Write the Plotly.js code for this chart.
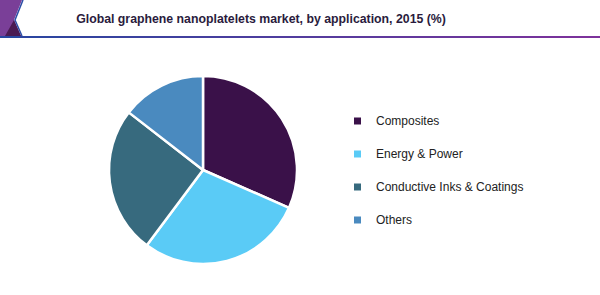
<!DOCTYPE html>
<html>
<head>
<meta charset="utf-8">
<script src="https://cdn.plot.ly/plotly-3.0.1.min.js"></script>
<style>html,body{margin:0;padding:0;background:#fff;}#chart{width:600px;height:295px;}</style>
</head>
<body>
<div id="chart"></div>
<script>
var labels = ["Composites", "Energy & Power", "Conductive Inks & Coatings", "Others"];
var values = [31.6, 28.6, 25.3, 14.5];
var colors = ["#3a1149", "#5acbf6", "#376a7e", "#4a8abf"];
var titleText = "Global graphene nanoplatelets market, by application, 2015 (%)";

var W = 600, H = 295;
function px(x){ return x / W; }
function py(y){ return 1 - y / H; }

var shapes = [];
var annotations = [];

// header line gradient (blue -> purple)
var nseg = 30;
function lerp(a, b, t){ return Math.round(a + (b - a) * t); }
for (var i = 0; i < nseg; i++) {
  var t = i / (nseg - 1);
  var c = "rgb(" + lerp(40, 125, t) + "," + lerp(70, 50, t) + "," + lerp(160, 155, t) + ")";
  shapes.push({type: "line", xref: "paper", yref: "paper",
    x0: px(i * W / nseg), x1: px((i + 1) * W / nseg + 1), y0: py(37), y1: py(37),
    line: {color: c, width: 2}});
}
// corner decoration
shapes.push({type: "path", xref: "paper", yref: "paper",
  path: "M " + px(0) + " " + py(0) + " L " + px(22) + " " + py(0) + " L " + px(14) + " " + py(20) + " L " + px(21) + " " + py(36) + " L " + px(0) + " " + py(36) + " Z",
  fillcolor: "#7a3f98", line: {width: 0}});
shapes.push({type: "path", xref: "paper", yref: "paper",
  path: "M " + px(14) + " " + py(20) + " L " + px(21) + " " + py(36) + " L " + px(5) + " " + py(36) + " Z",
  fillcolor: "#4a1a52", line: {width: 0}});
shapes.push({type: "path", xref: "paper", yref: "paper",
  path: "M " + px(23) + " " + py(0) + " L " + px(15) + " " + py(20) + " L " + px(22) + " " + py(36),
  line: {color: "#2c4ea6", width: 1.5}});

// legend built from data arrays
var legY0 = 121, legStep = 33;
for (var k = 0; k < labels.length; k++) {
  var yy = legY0 + k * legStep;
  shapes.push({type: "rect", xref: "paper", yref: "paper",
    x0: px(354), x1: px(361), y0: py(yy - 3.5), y1: py(yy + 3.5),
    fillcolor: colors[k], line: {width: 0}});
  annotations.push({xref: "paper", yref: "paper", x: px(374), y: py(yy),
    xanchor: "left", yanchor: "middle", showarrow: false, text: labels[k],
    font: {family: "Liberation Sans, Arial, sans-serif", size: 12, color: "#222222"}});
}

var data = [{
  type: "pie",
  labels: labels,
  values: values,
  sort: false,
  direction: "clockwise",
  rotation: 0,
  textinfo: "none",
  hoverinfo: "label+percent",
  marker: {colors: colors, line: {color: "#ffffff", width: 2.5}},
  domain: {x: [px(203 - 94), px(203 + 94)], y: [py(170 + 94), py(170 - 94)]}
}];

var layout = {
  width: W, height: H,
  margin: {l: 0, r: 0, t: 0, b: 0},
  paper_bgcolor: "#ffffff",
  showlegend: false,
  title: {text: "<b>" + titleText + "</b>", x: px(261), xanchor: "center", y: py(18.5), yanchor: "middle",
    font: {family: "Liberation Sans, Arial, sans-serif", size: 12.3, color: "#2a1b3d"}},
  shapes: shapes,
  annotations: annotations
};

Plotly.newPlot("chart", data, layout, {displayModeBar: false, staticPlot: true});
</script>
</body>
</html>
